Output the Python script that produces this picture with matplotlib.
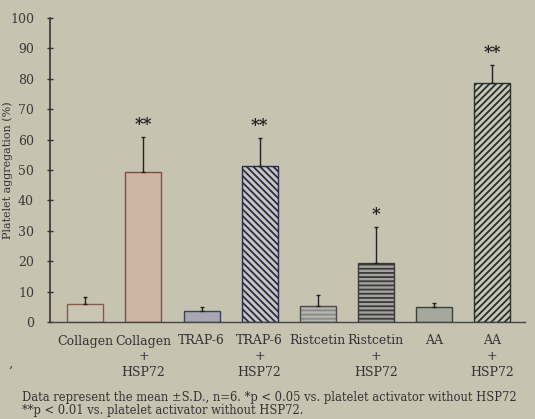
import matplotlib
matplotlib.use("Agg")
import matplotlib.pyplot as plt
import numpy as np

# Platelet aggregation by activator, with and without HSP72
categories = ["Collagen", "Collagen\n+\nHSP72", "TRAP-6", "TRAP-6\n+\nHSP72",
              "Ristcetin", "Ristcetin\n+\nHSP72", "AA", "AA\n+\nHSP72"]
means = [6.0, 49.5, 3.7, 51.2, 5.3, 19.4, 4.9, 78.6]
sds = [2.3, 11.3, 1.3, 9.3, 3.6, 11.8, 1.5, 5.9]
signif = ["", "**", "", "**", "", "*", "", "**"]
yticks = [0, 10, 20, 30, 40, 50, 60, 70, 80, 90, 100]

bg = "#c6c3b1"
faces = ["#cbc6b4", "#cdb7a4", "#a7a6b2", "#c9c7be", "#b6b5ae", "#a3a29e", "#a6a89e", "#c6c6ba"]
edges = ["#8a5a48", "#80503e", "#3e3e56", "#2c2c4a", "#4c4c4c", "#3a3a3a", "#3c4238", "#2a3028"]
hatches = [None, None, None, "\\\\\\\\\\", "----", "----", None, "/////"]

plt.rcParams["font.family"] = ["DejaVu Serif"]
plt.rcParams["hatch.linewidth"] = 1.3

fig = plt.figure(figsize=(5.35, 4.19), dpi=100, facecolor=bg)
ax = fig.add_axes([50 / 535, 1 - 322 / 419, 475 / 535, 304 / 419], facecolor=bg)

x = np.arange(len(categories))
for i in x:
    hc = edges[i] if i != 4 else "#8a8a86"
    b = ax.bar(i, means[i], width=0.62, color=faces[i], edgecolor=edges[i],
               linewidth=1.0, hatch=hatches[i], zorder=2)
    b[0]._hatch_color = matplotlib.colors.to_rgba(hc)
    ax.errorbar(i, means[i], yerr=[[0], [sds[i]]], fmt="none",
                ecolor="#222222", elinewidth=1.0, capsize=1.5, capthick=1.0, zorder=3)
    if signif[i]:
        ax.annotate(signif[i], (i, means[i] + sds[i]), xytext=(0, 3),
                    textcoords="offset points", ha="center", va="bottom",
                    fontsize=12, fontweight="bold", color="#222222")

ax.set_xlim(-0.61, 7.57)
ax.set_ylim(0, 100)
ax.set_yticks(yticks)
ax.set_xticks(x)
ax.set_xticklabels(categories, fontsize=9, color="#333333", linespacing=1.25)
ax.tick_params(axis="x", length=0, pad=9)
ax.tick_params(axis="y", direction="inout", length=5, width=1.0, pad=9,
               labelsize=9, labelcolor="#3a3a3a", color="#333333")
for s in ["top", "right"]:
    ax.spines[s].set_visible(False)
ax.spines["left"].set_color("#333333")
ax.spines["bottom"].set_color("#444444")
ax.spines["left"].set_linewidth(1.2)
ax.spines["bottom"].set_linewidth(1.0)

fig.text(2 / 535, 1 - 170 / 419, "Platelet aggregation (%)", rotation=90,
         ha="left", va="center", fontsize=8, color="#333333")
fig.text(10 / 535, 1 - 372 / 419, "’", fontsize=9, color="#333333",
         ha="center", va="center")
fig.text(22 / 535, 1 - 397 / 419,
         "Data represent the mean \u00b1S.D., n=6. *p < 0.05 vs. platelet activator without HSP72",
         fontsize=8.3, color="#333333", ha="left", va="center")
fig.text(22 / 535, 1 - 410 / 419,
         "**p < 0.01 vs. platelet activator without HSP72.",
         fontsize=8.3, color="#333333", ha="left", va="center")

fig.savefig("out.png", dpi=100, facecolor=bg)
